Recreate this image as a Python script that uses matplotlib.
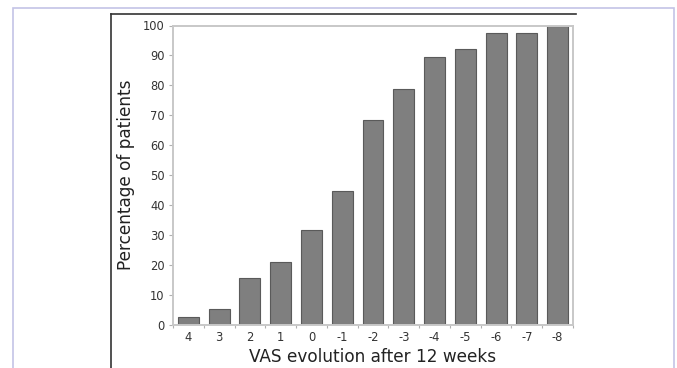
import matplotlib
matplotlib.use("Agg")
import matplotlib.pyplot as plt
from matplotlib.patches import Rectangle
from matplotlib.lines import Line2D
import numpy as np

categories = ["4", "3", "2", "1", "0", "-1", "-2", "-3", "-4", "-5", "-6", "-7", "-8"]
percentages = [2.6, 5.3, 15.8, 21.1, 31.6, 44.7, 68.4, 78.9, 89.5, 92.1, 97.4, 97.4, 100.0]
x_label = "VAS evolution after 12 weeks"
y_label = "Percentage of patients"
y_ticks = [0, 10, 20, 30, 40, 50, 60, 70, 80, 90, 100]

W, H = 677, 368
fig = plt.figure(figsize=(W / 100, H / 100), dpi=100)
fig.patch.set_facecolor("white")

# outer lavender frame
fig.add_artist(Rectangle((13 / W, -0.05), (673.5 - 13) / W, 1.05 - 7.7 / H,
                         transform=fig.transFigure, fill=False,
                         edgecolor="#c4c4e6", linewidth=1.2))
# inner black frame lines (left + top)
fig.add_artist(Line2D([111 / W, 111 / W], [0, 1 - 14.3 / H], transform=fig.transFigure,
                      color="#333333", linewidth=1.2))
fig.add_artist(Line2D([111 / W, 576 / W], [1 - 14.3 / H, 1 - 14.3 / H], transform=fig.transFigure,
                      color="#333333", linewidth=1.2))

ax = fig.add_axes([173 / W, 1 - 325 / H, (573 - 173) / W, (325 - 25.5) / H])
x = np.arange(len(categories))
ax.bar(x, percentages, width=0.68, color="#7f7f7f", edgecolor="#5a5a5a", linewidth=0.8)

ax.set_xlim(-0.5, len(categories) - 0.5)
ax.set_ylim(0, 100)
ax.set_yticks(y_ticks)
ax.set_xticks(x)
ax.set_xticklabels(categories)
ax.set_xticks(np.arange(-0.5, len(categories), 1.0), minor=True)

for s in ax.spines.values():
    s.set_color("#c8c8c8")
    s.set_linewidth(1.4)

ax.tick_params(axis="x", which="major", length=0, pad=4.5, labelsize=8.3, labelcolor="#333333")
ax.tick_params(axis="x", which="minor", length=2.5, color="#b0b0b0", width=0.8)
ax.tick_params(axis="y", which="major", length=3, color="#b0b0b0", width=0.8,
               labelsize=8.3, labelcolor="#333333", pad=3)

ax.set_xlabel(x_label, fontsize=12.2, color="#222222", labelpad=3)
ax.set_ylabel(y_label, fontsize=12.2, color="#222222", labelpad=6)

fig.savefig("out.png", dpi=100)
